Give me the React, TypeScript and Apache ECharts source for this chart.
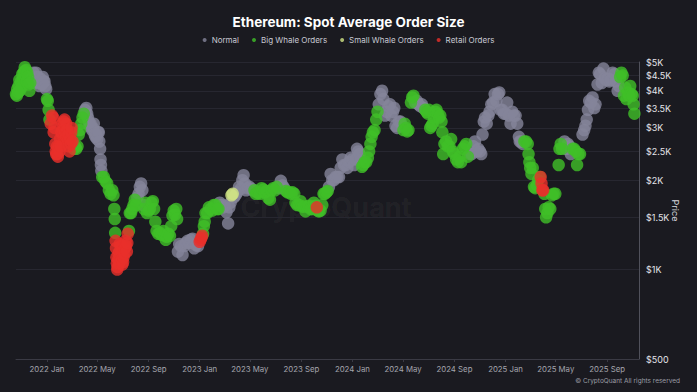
import React, { useEffect, useRef } from "react";
import * as echarts from "echarts";

const chartTitle = "Ethereum: Spot Average Order Size";
const seriesNames = ["Normal", "Big Whale Orders", "Small Whale Orders", "Retail Orders"];
const seriesColors = ["#84859a", "#40bf28", "#cfe385", "#e8302b"];
const priceTicks = [500, 1000, 1500, 2000, 2500, 3000, 3500, 4000, 4500, 5000];
const monthTicks = [
  "2022-01-01", "2022-05-01", "2022-09-01", "2023-01-01", "2023-05-01", "2023-09-01",
  "2024-01-01", "2024-05-01", "2024-09-01", "2025-01-01", "2025-05-01", "2025-09-01",
];
const dateRange = ["2021-10-19", "2025-11-16"];

const normalPoints: [string, number][] = [
  ["2021-11-26", 4400], ["2021-11-30", 4600], ["2021-12-02", 4250], ["2021-12-04", 4450], ["2021-12-06", 4600],
  ["2021-12-08", 4350], ["2021-12-10", 4450], ["2021-12-12", 4250], ["2021-12-14", 4150], ["2021-12-16", 4400],
  ["2021-12-18", 4300], ["2021-12-20", 4200], ["2021-12-22", 4450], ["2021-12-24", 4300], ["2021-12-26", 4300],
  ["2021-12-28", 4150], ["2021-12-30", 4050],
  ["2022-04-02", 3450], ["2022-04-03", 3350], ["2022-04-05", 3500], ["2022-04-07", 3350], ["2022-04-09", 3250],
  ["2022-04-11", 3150], ["2022-04-13", 3050], ["2022-04-15", 3100], ["2022-04-17", 3000], ["2022-04-19", 2950],
  ["2022-04-21", 3000], ["2022-04-23", 3100], ["2022-04-25", 2850], ["2022-04-27", 2800], ["2022-04-29", 2850],
  ["2022-05-01", 2750], ["2022-05-03", 2900], ["2022-05-05", 2900], ["2022-05-06", 2700], ["2022-05-08", 2550],
  ["2022-05-09", 2350], ["2022-05-10", 2250], ["2022-05-11", 2150],
  ["2022-08-05", 1750], ["2022-08-08", 1800], ["2022-08-11", 1900], ["2022-08-14", 1950], ["2022-08-17", 1850],
  ["2022-08-19", 1650],
  ["2022-11-10", 1150], ["2022-11-13", 1220], ["2022-11-17", 1200], ["2022-11-21", 1120], ["2022-11-25", 1200],
  ["2022-11-29", 1230], ["2022-12-03", 1250], ["2022-12-07", 1230], ["2022-12-11", 1260], ["2022-12-15", 1270],
  ["2022-12-19", 1180], ["2022-12-23", 1210], ["2022-12-28", 1200],
  ["2023-02-18", 1680], ["2023-02-22", 1650], ["2023-02-26", 1620], ["2023-03-02", 1640], ["2023-03-06", 1560],
  ["2023-03-10", 1430], ["2023-03-13", 1620], ["2023-03-16", 1680],
  ["2023-03-24", 1750], ["2023-03-28", 1780], ["2023-04-01", 1820], ["2023-04-05", 1900], ["2023-04-09", 1870],
  ["2023-04-13", 2000], ["2023-04-16", 2080], ["2023-04-19", 1950], ["2023-04-22", 1850], ["2023-04-26", 1880],
  ["2023-04-30", 1900], ["2023-05-04", 1870], ["2023-05-08", 1850],
  ["2023-07-08", 1900], ["2023-07-11", 1880], ["2023-07-14", 1990], ["2023-07-18", 1920], ["2023-07-22", 1880],
  ["2023-11-06", 1900], ["2023-11-10", 2100], ["2023-11-14", 2000], ["2023-11-18", 2000], ["2023-11-22", 2050],
  ["2023-11-26", 2050], ["2023-11-30", 2050], ["2023-12-04", 2200], ["2023-12-08", 2350], ["2023-12-12", 2250],
  ["2023-12-16", 2250], ["2023-12-20", 2200], ["2023-12-24", 2300], ["2023-12-28", 2380], ["2024-01-01", 2350],
  ["2024-01-05", 2250], ["2024-01-09", 2350], ["2024-01-12", 2550], ["2024-01-15", 2500], ["2024-01-18", 2450],
  ["2024-01-21", 2350],
  ["2024-03-04", 3600], ["2024-03-08", 3900], ["2024-03-12", 4000], ["2024-03-15", 3750], ["2024-03-19", 3300],
  ["2024-03-23", 3400], ["2024-03-27", 3550], ["2024-03-31", 3600], ["2024-04-03", 3300], ["2024-04-07", 3400],
  ["2024-04-10", 3500], ["2024-04-13", 3050], ["2024-04-17", 3000], ["2024-04-21", 3150], ["2024-04-25", 3150],
  ["2024-04-29", 3050],
  ["2024-05-30", 3650], ["2024-06-03", 3700], ["2024-06-07", 3600], ["2024-06-11", 3550], ["2024-06-15", 3600],
  ["2024-06-19", 3500],
  ["2024-10-08", 2450], ["2024-10-12", 2450], ["2024-10-16", 2600], ["2024-10-20", 2700], ["2024-10-24", 2500],
  ["2024-10-28", 2550], ["2024-11-01", 2500], ["2024-11-04", 2450], ["2024-11-07", 2850], ["2024-11-10", 3150],
  ["2024-11-13", 3250], ["2024-11-17", 3100], ["2024-11-21", 3300], ["2024-11-24", 3400], ["2024-11-28", 3600],
  ["2024-12-02", 3650], ["2024-12-06", 3900], ["2024-12-10", 3700], ["2024-12-14", 3900], ["2024-12-17", 3950],
  ["2024-12-20", 3450], ["2024-12-24", 3450], ["2024-12-28", 3350], ["2025-01-01", 3350], ["2025-01-05", 3650],
  ["2025-01-09", 3300], ["2025-01-13", 3100], ["2025-01-17", 3400], ["2025-01-21", 3300], ["2025-01-25", 3300],
  ["2025-01-29", 3100], ["2025-02-02", 2800], ["2025-02-04", 2700], ["2025-02-07", 2700], ["2025-02-11", 2650],
  ["2025-05-22", 2700], ["2025-05-26", 2550], ["2025-05-30", 2650], ["2025-06-03", 2600], ["2025-06-06", 2450],
  ["2025-07-04", 2850], ["2025-07-08", 2950], ["2025-07-11", 3050], ["2025-07-14", 3200], ["2025-07-17", 3450],
  ["2025-07-20", 3700], ["2025-07-24", 3650], ["2025-07-28", 3800], ["2025-08-01", 3500], ["2025-08-04", 3600],
  ["2025-08-09", 4200], ["2025-08-12", 4600], ["2025-08-15", 4550], ["2025-08-19", 4250], ["2025-08-23", 4750],
  ["2025-08-26", 4400], ["2025-08-30", 4350], ["2025-09-03", 4400], ["2025-09-06", 4300], ["2025-09-10", 4350],
  ["2025-09-14", 4600], ["2025-09-18", 4550], ["2025-09-22", 4300], ["2025-09-26", 4000], ["2025-09-29", 4150],
];

const bigWhalePoints: [string, number][] = [
  ["2021-10-19", 3900], ["2021-10-21", 3850], ["2021-10-22", 4050], ["2021-10-24", 3950], ["2021-10-25", 4150],
  ["2021-10-27", 4350], ["2021-10-28", 4000], ["2021-10-31", 4300], ["2021-11-01", 4100], ["2021-11-03", 4550],
  ["2021-11-05", 4350], ["2021-11-06", 4600], ["2021-11-08", 4650], ["2021-11-09", 4800], ["2021-11-11", 4500],
  ["2021-11-12", 4700], ["2021-11-14", 4300], ["2021-11-15", 4600], ["2021-11-17", 4450], ["2021-11-18", 4200],
  ["2021-11-20", 4000], ["2021-11-22", 4250],
  ["2022-01-01", 3750], ["2022-01-03", 3700], ["2022-01-05", 3450], ["2022-01-07", 3200],
  ["2022-03-06", 2550], ["2022-03-09", 2600], ["2022-03-12", 2550], ["2022-03-15", 2600], ["2022-03-18", 2850],
  ["2022-03-21", 2950], ["2022-03-24", 3100], ["2022-03-27", 3250], ["2022-03-30", 3350],
  ["2022-05-13", 2050], ["2022-05-17", 2050], ["2022-05-21", 1980], ["2022-05-25", 1950], ["2022-05-29", 1850],
  ["2022-06-02", 1800], ["2022-06-06", 1850], ["2022-06-09", 1780], ["2022-06-11", 1600], ["2022-06-12", 1480],
  ["2022-06-13", 1330],
  ["2022-07-16", 1350], ["2022-07-18", 1550], ["2022-07-21", 1550], ["2022-07-24", 1600], ["2022-07-27", 1650],
  ["2022-07-30", 1720], ["2022-08-02", 1650],
  ["2022-08-21", 1600], ["2022-08-24", 1680], ["2022-08-28", 1550], ["2022-09-01", 1580], ["2022-09-04", 1600],
  ["2022-09-08", 1680], ["2022-09-11", 1700], ["2022-09-14", 1600], ["2022-09-17", 1450],
  ["2022-09-20", 1350], ["2022-09-24", 1320], ["2022-09-28", 1330], ["2022-10-02", 1310], ["2022-10-06", 1350],
  ["2022-10-10", 1300], ["2022-10-12", 1260], ["2022-10-14", 1290], ["2022-10-18", 1320], ["2022-10-22", 1300],
  ["2022-10-25", 1400], ["2022-10-28", 1520], ["2022-10-31", 1580], ["2022-11-03", 1530], ["2022-11-06", 1600],
  ["2022-11-08", 1480],
  ["2023-01-09", 1320], ["2023-01-11", 1400], ["2023-01-13", 1450], ["2023-01-15", 1550], ["2023-01-19", 1550],
  ["2023-01-23", 1620], ["2023-01-27", 1600], ["2023-01-31", 1580], ["2023-02-04", 1650], ["2023-02-08", 1650],
  ["2023-02-12", 1600], ["2023-02-15", 1600],
  ["2023-05-12", 1850], ["2023-05-15", 1800], ["2023-05-18", 1820], ["2023-05-21", 1810], ["2023-05-25", 1800],
  ["2023-05-29", 1880], ["2023-06-02", 1860], ["2023-06-06", 1820], ["2023-06-10", 1840], ["2023-06-14", 1740],
  ["2023-06-18", 1720], ["2023-06-22", 1850], ["2023-06-26", 1880], ["2023-06-30", 1850], ["2023-07-04", 1900],
  ["2023-07-26", 1840], ["2023-07-30", 1820], ["2023-08-03", 1820], ["2023-08-07", 1800], ["2023-08-11", 1820],
  ["2023-08-15", 1800], ["2023-08-18", 1680], ["2023-08-22", 1650], ["2023-08-26", 1650], ["2023-08-30", 1700],
  ["2023-09-03", 1630], ["2023-09-07", 1630], ["2023-09-11", 1570], ["2023-09-15", 1630], ["2023-09-19", 1640],
  ["2023-09-23", 1600], ["2023-09-27", 1600], ["2023-10-01", 1680], ["2023-10-05", 1640], ["2023-10-10", 1580],
  ["2023-10-13", 1570], ["2023-10-17", 1580], ["2023-10-21", 1650], ["2023-10-24", 1800], ["2023-10-27", 1800],
  ["2023-10-31", 1820], ["2023-11-03", 1840],
  ["2024-01-24", 2220], ["2024-01-27", 2250], ["2024-01-30", 2300], ["2024-02-03", 2300], ["2024-02-07", 2380],
  ["2024-02-10", 2500], ["2024-02-13", 2650], ["2024-02-16", 2800], ["2024-02-19", 2900], ["2024-02-23", 2950],
  ["2024-02-27", 3200], ["2024-03-01", 3400],
  ["2024-05-02", 2950], ["2024-05-05", 3100], ["2024-05-08", 3000], ["2024-05-11", 2920], ["2024-05-14", 2950],
  ["2024-05-20", 3650], ["2024-05-23", 3800], ["2024-05-26", 3850],
  ["2024-06-23", 3450], ["2024-06-26", 3400], ["2024-06-29", 3350], ["2024-07-02", 3450], ["2024-07-05", 3000],
  ["2024-07-08", 3050], ["2024-07-11", 3100], ["2024-07-14", 3250], ["2024-07-17", 3400], ["2024-07-20", 3450],
  ["2024-07-23", 3350], ["2024-07-26", 3250], ["2024-07-29", 3300], ["2024-08-01", 3150], ["2024-08-03", 2900],
  ["2024-08-05", 2450], ["2024-08-08", 2650], ["2024-08-12", 2700], ["2024-08-16", 2600], ["2024-08-20", 2600],
  ["2024-08-24", 2750], ["2024-08-28", 2500], ["2024-09-01", 2450], ["2024-09-05", 2350], ["2024-09-09", 2300],
  ["2024-09-13", 2400], ["2024-09-17", 2300], ["2024-09-21", 2550], ["2024-09-25", 2600], ["2024-09-29", 2650],
  ["2024-10-03", 2400],
  ["2025-02-15", 2700], ["2025-02-19", 2700], ["2025-02-23", 2650], ["2025-02-25", 2450], ["2025-02-27", 2300],
  ["2025-03-01", 2200], ["2025-03-04", 2100], ["2025-03-07", 2200], ["2025-03-10", 1900], ["2025-03-13", 1880],
  ["2025-03-17", 1920], ["2025-03-20", 2000], ["2025-03-24", 2050],
  ["2025-04-04", 1800], ["2025-04-06", 1600], ["2025-04-08", 1500], ["2025-04-11", 1550], ["2025-04-14", 1620],
  ["2025-04-18", 1600], ["2025-04-22", 1780], ["2025-04-26", 1800], ["2025-04-30", 1800],
  ["2025-05-08", 2250], ["2025-05-10", 2550], ["2025-05-13", 2650], ["2025-05-16", 2550],
  ["2025-06-10", 2550], ["2025-06-14", 2550], ["2025-06-18", 2500], ["2025-06-21", 2250], ["2025-06-24", 2450],
  ["2025-06-28", 2450],
  ["2025-10-02", 4450], ["2025-10-05", 4600], ["2025-10-08", 4500], ["2025-10-11", 3850], ["2025-10-14", 4100],
  ["2025-10-17", 3750], ["2025-10-20", 3950], ["2025-10-23", 3850], ["2025-10-26", 4150], ["2025-10-29", 3900],
  ["2025-11-01", 3850], ["2025-11-03", 3600], ["2025-11-05", 3350],
];

const smallWhalePoints: [string, number][] = [
  ["2023-03-18", 1780], ["2023-03-21", 1800],
];

const retailPoints: [string, number][] = [
  ["2022-01-10", 3100], ["2022-01-13", 3300], ["2022-01-16", 3250], ["2022-01-17", 2900], ["2022-01-19", 3000],
  ["2022-01-21", 2650], ["2022-01-22", 2500], ["2022-01-23", 2450], ["2022-01-25", 2600], ["2022-01-26", 2450],
  ["2022-01-27", 2400], ["2022-01-29", 2600], ["2022-01-31", 2500], ["2022-02-01", 2750], ["2022-02-03", 2600],
  ["2022-02-04", 2900], ["2022-02-06", 2850], ["2022-02-07", 3100], ["2022-02-09", 2950], ["2022-02-10", 3150],
  ["2022-02-12", 3200], ["2022-02-13", 2900], ["2022-02-15", 2800], ["2022-02-16", 3100], ["2022-02-18", 2950],
  ["2022-02-19", 2750], ["2022-02-21", 2850], ["2022-02-22", 2600], ["2022-02-24", 2500], ["2022-02-25", 2750],
  ["2022-02-27", 2650], ["2022-02-28", 2900], ["2022-03-01", 3000], ["2022-03-03", 2700],
  ["2022-06-14", 1250], ["2022-06-15", 1180], ["2022-06-16", 1100], ["2022-06-17", 1050], ["2022-06-18", 1000],
  ["2022-06-19", 1020], ["2022-06-20", 1080], ["2022-06-21", 1130], ["2022-06-22", 1050], ["2022-06-23", 1150],
  ["2022-06-24", 1220], ["2022-06-26", 1200], ["2022-06-27", 1150], ["2022-06-29", 1080], ["2022-06-30", 1040],
  ["2022-07-02", 1060], ["2022-07-03", 1100], ["2022-07-05", 1130], ["2022-07-06", 1180], ["2022-07-08", 1250],
  ["2022-07-09", 1200], ["2022-07-11", 1150], ["2022-07-12", 1230], ["2022-07-13", 1320],
  ["2023-01-01", 1240], ["2023-01-03", 1260], ["2023-01-05", 1280], ["2023-01-07", 1300],
  ["2023-10-08", 1620],
  ["2025-03-26", 2050], ["2025-03-28", 1950], ["2025-03-30", 1850], ["2025-04-01", 1850],
];

const toTs = (d: string) => {
  const [y, m, dd] = d.split("-").map(Number);
  return Date.UTC(y, m - 1, dd);
};
const MONTHS = ["Jan", "Feb", "Mar", "Apr", "May", "Jun", "Jul", "Aug", "Sep", "Oct", "Nov", "Dec"];
const toSeriesData = (pts: [string, number][]) => pts.map(([d, p]) => [toTs(d), Math.log10(p)]);

const FONT = "Inter, 'Noto Sans', sans-serif";

export default function App() {
  const ref = useRef<HTMLDivElement>(null);
  useEffect(() => {
    if (!ref.current) return;
    const chart = echarts.init(ref.current, undefined, { renderer: "svg" });
    const allPoints = [normalPoints, bigWhalePoints, smallWhalePoints, retailPoints];
    const yTickVals = priceTicks.map((p) => Math.log10(p));
    const xTickVals = monthTicks.map(toTs);
    chart.setOption({
      animation: false,
      backgroundColor: "#1a1a20",
      textStyle: { fontFamily: FONT },
      title: {
        text: chartTitle,
        left: "center",
        top: 10,
        textStyle: { color: "#ffffff", fontSize: 13.5, fontWeight: "bold", fontFamily: FONT },
      },
      legend: {
        top: 31,
        left: "center",
        icon: "circle",
        itemWidth: 4,
        itemHeight: 4,
        itemGap: 13,
        textStyle: { color: "#c8c9d2", fontSize: 8, fontFamily: FONT },
        data: seriesNames,
      },
      grid: { left: 16, right: 58, top: 62, bottom: 33 },
      xAxis: {
        type: "value",
        min: toTs(dateRange[0]),
        max: toTs(dateRange[1]),
        axisLine: { show: true, lineStyle: { color: "#3a3a44" } },
        axisTick: { show: true, customValues: xTickVals, length: 3, lineStyle: { color: "#3a3a44" } },
        axisLabel: {
          customValues: xTickVals,
          color: "#a4a5ad",
          fontSize: 7.8,
          margin: 6,
          fontFamily: FONT,
          formatter: (v: number) => {
            const d = new Date(v);
            return `${d.getUTCFullYear()} ${MONTHS[d.getUTCMonth()]}`;
          },
        },
        splitLine: { show: false },
      },
      yAxis: {
        type: "value",
        position: "right",
        min: Math.log10(priceTicks[0]),
        max: Math.log10(priceTicks[priceTicks.length - 1]),
        name: "Price",
        nameLocation: "middle",
        nameGap: 32,
        nameRotate: -90,
        nameMoveOverlap: false,
        nameTextStyle: { color: "#d6d7de", fontSize: 9, fontFamily: FONT },
        axisLine: { show: true, lineStyle: { color: "#50515b" } },
        axisTick: { show: false, customValues: yTickVals },
        axisLabel: {
          customValues: yTickVals,
          color: "#e4e5ea",
          fontSize: 9,
          margin: 7,
          fontFamily: FONT,
          formatter: (v: number) => {
            const p = Math.round(Math.pow(10, v));
            return p >= 1000 ? `$${p / 1000}K` : `$${p}`;
          },
        },
        splitLine: { show: true, lineStyle: { color: "#272730", width: 1 } },
      },
      graphic: [
        {
          type: "text",
          x: 326,
          y: 207,
          z: 0,
          style: {
            text: "CryptoQuant",
            fill: "rgba(255,255,255,0.05)",
            font: `bold 27px ${FONT}`,
            align: "center",
            verticalAlign: "middle",
            textAlign: "center",
            textVerticalAlign: "middle",
          },
        },
        {
          type: "text",
          x: 680,
          y: 381,
          style: {
            text: "© CryptoQuant All rights reserved",
            fill: "#9c9da5",
            font: `6.5px ${FONT}`,
            align: "right",
            verticalAlign: "middle",
            textAlign: "right",
            textVerticalAlign: "middle",
          },
        },
      ],
      series: seriesNames.map((name, i) => ({
        name,
        type: "scatter",
        symbol: "circle",
        symbolSize: 12.5,
        itemStyle: { color: seriesColors[i], opacity: 0.8 },
        data: toSeriesData(allPoints[i]),
      })),
    });
    return () => chart.dispose();
  }, []);
  return (
    <div
      ref={ref}
      style={{ position: "fixed", left: 0, top: 0, width: 697, height: 392, background: "#1a1a20" }}
    />
  );
}
